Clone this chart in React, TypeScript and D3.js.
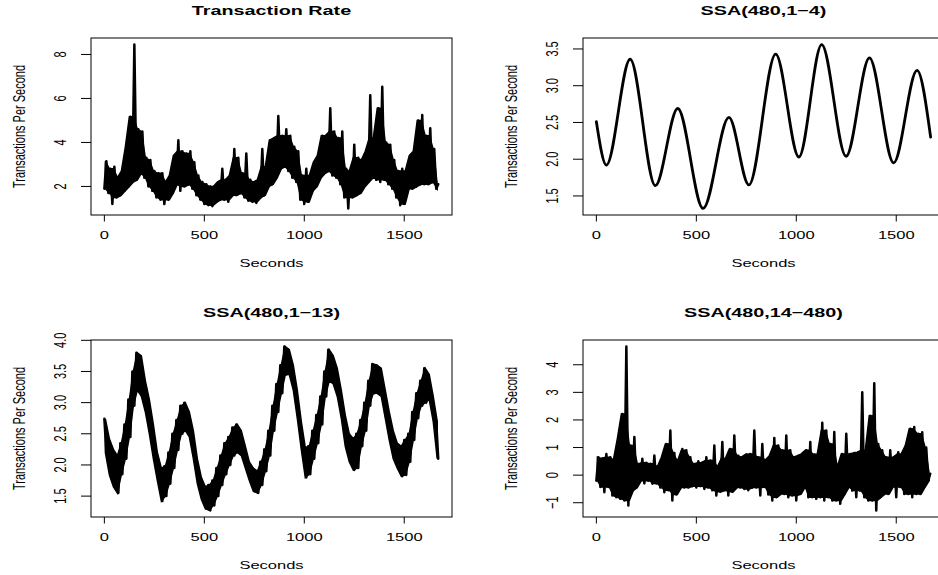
import React, { useRef, useEffect } from 'react';
import * as d3 from 'd3';

// noisy series are read off the picture as a low and a high reading per 20 s bin,
// the second reading of each bin sits 10 s after the first
const STEP = 20;
const LAST_SECOND = 1672;

// Transaction Rate (low at 0,20,..; high at 10,30,..)
const rateLo = [
  1.9, 1.7, 1.2, 1.5, 1.6, 1.8, 2.0, 2.2, 2.3, 2.6,
  2.4, 2.0, 1.8, 1.5, 1.4, 1.2, 1.4, 1.7, 2.1, 1.8,
  2.0, 2.1, 1.9, 1.6, 1.4, 1.2, 1.15, 1.1, 1.3, 1.4,
  1.4, 1.3, 1.6, 1.6, 1.7, 1.5, 1.35, 1.3, 1.25, 1.5,
  1.6, 2.0, 2.1, 2.4, 2.8, 2.9, 2.7, 2.4, 2.2, 1.4,
  1.2, 1.3, 1.8, 2.0, 2.4, 2.6, 2.7, 2.5, 2.4, 2.1,
  1.5, 1.0, 1.5, 1.6, 1.7, 2.0, 2.2, 2.4, 2.3, 2.2,
  2.3, 2.1, 1.9, 1.5, 1.15, 1.2, 1.9, 1.9, 2.0, 2.1,
  2.1, 2.1, 2.2, 1.9,
];
const rateHi = [
  3.15, 2.8, 2.9, 2.4, 2.7, 3.8, 5.17, 8.45, 4.6, 4.5,
  3.3, 3.2, 2.7, 2.6, 2.6, 2.2, 2.5, 3.4, 4.1, 3.6,
  3.5, 3.6, 3.1, 2.5, 2.2, 2.1, 2.0, 2.0, 2.2, 2.8,
  2.3, 2.5, 3.7, 3.3, 2.6, 3.5, 2.3, 2.2, 2.3, 3.7,
  2.9, 4.1, 4.2, 5.2, 4.3, 4.6, 4.3, 3.8, 3.6, 2.5,
  2.8, 2.5, 3.1, 3.4, 4.3, 4.3, 5.55, 4.5, 4.2, 4.5,
  2.8, 2.7, 3.9, 3.3, 3.2, 3.6, 6.15, 4.2, 5.55, 6.53,
  4.0, 3.9, 3.2, 2.7, 2.8, 2.7, 3.4, 3.6, 5.0, 5.25,
  4.3, 4.65, 3.7, 2.1,
];

// SSA(480,1-4): smooth, turning points
const trendSec = [0, 50, 169, 295, 407, 534, 663, 763, 897, 1013, 1127, 1249, 1366, 1487, 1604, 1672];
const trendVal = [2.51, 1.92, 3.36, 1.64, 2.69, 1.33, 2.57, 1.65, 3.43, 2.03, 3.56, 2.04, 3.38, 1.95, 3.21, 2.3];

// SSA(480,1-13) (high at 0,20,..; low at 10,30,..)
const ssa13Hi = [
  2.74, 2.42, 2.25, 2.15, 2.35, 2.65, 3.05, 3.5, 3.8, 3.75,
  3.35, 3.05, 2.65, 2.2, 1.95, 1.98, 2.2, 2.5, 2.72, 2.95,
  3.0, 2.85, 2.55, 2.1, 1.8, 1.65, 1.68, 1.75, 1.95, 2.15,
  2.35, 2.45, 2.6, 2.65, 2.55, 2.3, 2.05, 1.95, 1.9, 2.05,
  2.25, 2.55, 2.95, 3.3, 3.6, 3.9, 3.85, 3.6, 3.2, 2.7,
  2.28, 2.3, 2.55, 2.8, 3.1, 3.5, 3.85, 3.75, 3.55, 3.2,
  2.8, 2.5, 2.42, 2.5, 2.72, 3.0, 3.35, 3.62, 3.6, 3.55,
  3.2, 2.85, 2.55, 2.35, 2.3, 2.4, 2.5, 2.85, 3.15, 3.35,
  3.55, 3.45, 3.1, 2.7,
];
const ssa13Lo = [
  2.2, 1.84, 1.65, 1.55, 1.85, 2.1, 2.45, 2.95, 3.2, 3.1,
  2.85, 2.5, 2.1, 1.75, 1.42, 1.5, 1.7, 1.95, 2.24, 2.5,
  2.55, 2.45, 2.1, 1.7, 1.45, 1.3, 1.27, 1.35, 1.5, 1.68,
  1.85, 2.0, 2.15, 2.2, 2.15, 1.95, 1.75, 1.58, 1.55, 1.68,
  1.9, 2.15, 2.55, 2.85, 3.15, 3.45, 3.45, 3.2, 2.75, 2.25,
  1.8, 1.85, 2.1, 2.35, 2.65, 3.1, 3.35, 3.3, 3.1, 2.75,
  2.3, 2.05, 1.92, 1.95, 2.3, 2.55, 2.95, 3.15, 3.15, 3.1,
  2.75, 2.4, 2.1, 1.95, 1.82, 1.84, 2.05, 2.4, 2.75, 2.95,
  3.0, 3.05, 2.7, 2.1,
];

// SSA(480,14-480) (low at 0,20,..; high at 10,30,..)
const residLo = [
  -0.2, -0.43, -0.62, -0.43, -0.74, -0.8, -0.86, -0.92, -1.1, -0.56,
  -0.45, -0.2, -0.3, -0.2, -0.31, -0.3, -0.45, -0.62, -0.55, -0.92,
  -0.7, -0.45, -0.45, -0.45, -0.4, -0.45, -0.4, -0.5, -0.45, -0.55,
  -0.74, -0.6, -0.55, -0.74, -0.6, -0.45, -0.45, -0.5, -0.55, -0.45,
  -0.45, -0.74, -0.43, -0.7, -0.92, -0.8, -0.68, -0.68, -0.8, -0.74,
  -0.92, -0.68, -0.43, -0.8, -0.8, -0.86, -0.8, -0.92, -0.8, -0.92,
  -0.92, -1.04, -0.68, -0.43, -0.56, -0.8, -0.56, -0.8, -0.92, -0.92,
  -1.28, -0.8, -0.68, -0.68, -0.43, -0.8, -0.43, -0.68, -0.68, -0.8,
  -0.68, -0.68, -0.43, -0.2,
];
const residHi = [
  0.65, 0.6, 0.77, 0.65, 0.55, 1.32, 2.22, 4.66, 1.07, 1.38,
  0.4, 0.59, 0.45, 0.41, 0.71, 0.3, 0.65, 1.13, 1.62, 0.8,
  0.5, 0.95, 0.9, 0.65, 0.4, 0.5, 0.45, 0.65, 0.53, 1.07,
  0.3, 1.2, 0.6, 0.95, 1.44, 0.7, 0.65, 0.75, 0.77, 1.62,
  0.65, 1.13, 0.55, 0.7, 1.35, 1.07, 0.9, 1.44, 0.9, 0.65,
  0.7, 0.77, 0.9, 1.2, 0.75, 0.77, 1.9, 1.62, 1.13, 1.56,
  0.3, 0.77, 1.5, 0.77, 0.8, 0.83, 3.0, 0.9, 2.15, 3.33,
  1.13, 0.9, 0.65, 0.9, 0.65, 0.83, 0.77, 1.07, 1.68, 1.74,
  1.5, 1.55, 1.0, 0.05,
];

const secondTicks = [0, 500, 1000, 1500];
const rateTicks = [2, 4, 6, 8];
const trendTicks = [1.5, 2.0, 2.5, 3.0, 3.5];
const ssa13Ticks = [1.5, 2.0, 2.5, 3.0, 3.5, 4.0];
const residTicks = [-1, 0, 1, 2, 3, 4];

const titles = ['Transaction Rate', 'SSA(480,1\u22124)', 'SSA(480,1\u221213)', 'SSA(480,14\u2212480)'];

type Pt = { t: number; v: number };
type Band = { t: number; lo: number; hi: number };

// alternate the two readings of each bin, as the per-second trace does
const zigzag = (lo: number[], hi: number[], loFirst: boolean): Pt[] =>
  lo.flatMap((l, i) => {
    const a = loFirst ? l : hi[i];
    const b = loFirst ? hi[i] : l;
    return [
      { t: i * STEP, v: a },
      { t: i * STEP + STEP / 2, v: b },
    ];
  });

// the solid part of the trace: where neighbouring swings overlap.
// isolated spikes (higher than both neighbours) stay out of it
const core = (lo: number[], hi: number[], spiky: boolean): Band[] =>
  lo.map((l, i) => {
    if (!spiky) return { t: i * STEP + STEP / 4, lo: l, hi: hi[i] };
    const p = Math.max(0, i - 1);
    const n = Math.min(lo.length - 1, i + 1);
    return {
      t: i * STEP + STEP / 4,
      lo: Math.min(Math.max(lo[p], l), Math.max(l, lo[n])),
      hi: Math.max(Math.min(hi[p], hi[i]), Math.min(hi[i], hi[n])),
    };
  });

const WIDTH = 938;
const HEIGHT = 575;
const FONT = '"Liberation Sans", Arial, Helvetica, sans-serif';
const STRETCH = 1.5; // the picture is wider than tall, text included

const App: React.FC = () => {
  const svgRef = useRef<SVGSVGElement>(null);

  useEffect(() => {
    if (!svgRef.current) return;
    const svg = d3.select(svgRef.current);
    svg.selectAll('*').remove();

    const panels = [
      {
        pts: zigzag(rateLo, rateHi, true),
        band: core(rateLo, rateHi, true),
        ticks: rateTicks,
        fmt: (d: number) => String(d),
        curve: d3.curveLinear,
      },
      {
        pts: trendSec.map((t, i) => ({ t, v: trendVal[i] })),
        band: [] as Band[],
        ticks: trendTicks,
        fmt: d3.format('.1f'),
        curve: d3.curveMonotoneX,
      },
      {
        pts: zigzag(ssa13Lo, ssa13Hi, false),
        band: core(ssa13Lo, ssa13Hi, false),
        ticks: ssa13Ticks,
        fmt: d3.format('.1f'),
        curve: d3.curveLinear,
      },
      {
        pts: zigzag(residLo, residHi, true),
        band: core(residLo, residHi, true),
        ticks: residTicks,
        fmt: (d: number) => String(d).replace('-', '\u2212'),
        curve: d3.curveLinear,
      },
    ];

    const boxW = 361;
    const boxH = 177;

    // R pads the data range by 4% on each side
    const pad = (lo: number, hi: number) => [lo - 0.04 * (hi - lo), hi + 0.04 * (hi - lo)];

    const hText = (g: any, x: number, y: number, s: string, size: number, bold = false) =>
      g
        .append('text')
        .attr('transform', `translate(${x},${y}) scale(${STRETCH},1)`)
        .attr('text-anchor', 'middle')
        .attr('font-family', FONT)
        .attr('font-size', size)
        .attr('font-weight', bold ? 'bold' : 'normal')
        .attr('fill', '#000')
        .text(s);

    const vText = (g: any, x: number, y: number, s: string, size: number) =>
      g
        .append('text')
        .attr('transform', `translate(${x},${y}) scale(${STRETCH},1) rotate(-90)`)
        .attr('text-anchor', 'middle')
        .attr('font-family', FONT)
        .attr('font-size', size)
        .attr('fill', '#000')
        .text(s);

    panels.forEach((p, k) => {
      const col = k % 2;
      const row = Math.floor(k / 2);
      const left = 91 + col * 492;
      const top = 38 + row * 302;
      const right = left + boxW;
      const bottom = top + boxH;

      const x = d3.scaleLinear().domain(pad(0, LAST_SECOND)).range([left, right]);
      const [vMin, vMax] = d3.extent(p.pts, (d) => d.v) as [number, number];
      const y = d3.scaleLinear().domain(pad(vMin, vMax)).range([bottom, top]);

      const g = svg.append('g');

      // solid body of the dense trace
      if (p.band.length) {
        const area = d3
          .area<Band>()
          .x((d) => x(d.t))
          .y0((d) => y(d.lo))
          .y1((d) => y(d.hi));
        g.append('path')
          .datum(p.band)
          .attr('fill', '#000')
          .attr('stroke', '#000')
          .attr('stroke-width', 1.5)
          .attr('d', area);
      }

      // series
      const line = d3
        .line<Pt>()
        .x((d) => x(d.t))
        .y((d) => y(d.v))
        .curve(p.curve);
      g.append('path')
        .datum(p.pts)
        .attr('fill', 'none')
        .attr('stroke', '#000')
        .attr('stroke-width', k === 1 ? 2.8 : 2.5)
        .attr('stroke-linejoin', 'round')
        .attr('stroke-linecap', 'round')
        .attr('d', line);

      // box
      g.append('rect')
        .attr('x', left)
        .attr('y', top)
        .attr('width', boxW)
        .attr('height', boxH)
        .attr('fill', 'none')
        .attr('stroke', '#000')
        .attr('stroke-width', 1);

      // x axis
      secondTicks.forEach((t) => {
        g.append('line')
          .attr('x1', x(t))
          .attr('x2', x(t))
          .attr('y1', bottom)
          .attr('y2', bottom + 6.5)
          .attr('stroke', '#000');
        hText(g, x(t), bottom + 24.4, String(t), 11);
      });

      // y axis
      p.ticks.forEach((v) => {
        g.append('line')
          .attr('x1', left - 10)
          .attr('x2', left)
          .attr('y1', y(v))
          .attr('y2', y(v))
          .attr('stroke', '#000');
        vText(g, left - 25, y(v), p.fmt(v), 11);
      });

      hText(g, (left + right) / 2, top - 23.3, titles[k], 13.2, true);
      hText(g, (left + right) / 2, bottom + 52, 'Seconds', 11);
      vText(g, left - 66, (top + bottom) / 2, 'Transactions Per Second', 11);
    });
  }, []);

  return (
    <svg
      ref={svgRef}
      width={WIDTH}
      height={HEIGHT}
      style={{ position: 'absolute', left: 0, top: 0, background: '#fff' }}
    />
  );
};

export default App;
